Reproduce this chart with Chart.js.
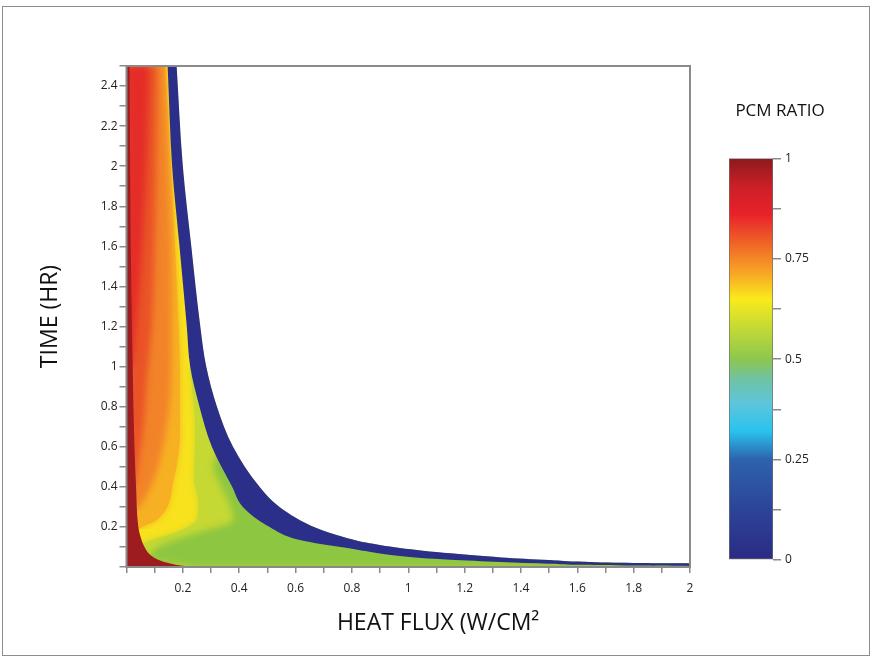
<!DOCTYPE html>
<html>
<head>
<meta charset="utf-8">
<title>PCM ratio</title>
<script src="https://cdn.jsdelivr.net/npm/chart.js@4.4.1/dist/chart.umd.min.js"></script>
<style>
	html, body { margin: 0; padding: 0; background: #fff; }
	#wrap { position: relative; width: 874px; height: 661px; }
	#frame { position: absolute; left: 2px; top: 6px; width: 866px; height: 648px; border: 1px solid #8c8c8c; }
	canvas { position: absolute; }
	#map { left: 0; top: 0; }
	#bar { left: 700px; top: 80px; }
</style>
</head>
<body>
<div id="wrap">
	<div id="frame"></div>
	<canvas id="map" width="874" height="661"></canvas>
	<canvas id="bar" width="174" height="520"></canvas>
</div>
<script>
(() => {
	'use strict'

	// contour edges, as [heat flux, time] pairs, time going up
	const outerEdge = [[2.0, 0], [2.0, 0.018], [1.8, 0.02], [1.6, 0.027], [1.5, 0.035], [1.33, 0.048], [1.15, 0.068], [0.97, 0.095], [0.85, 0.122], [0.77, 0.15], [0.674, 0.195], [0.543, 0.3], [0.472, 0.4], [0.378, 0.6], [0.321, 0.8], [0.283, 1.0], [0.262, 1.2], [0.23, 1.6], [0.2, 2.0], [0.178, 2.5]]
	const innerEdge = [[2.0, 0], [2.0, 0.004], [1.8, 0.007], [1.6, 0.011], [1.5, 0.016], [1.33, 0.025], [1.15, 0.036], [0.97, 0.055], [0.79, 0.093], [0.615, 0.135], [0.508, 0.2], [0.413, 0.3], [0.375, 0.4], [0.303, 0.6], [0.259, 0.8], [0.226, 1.0], [0.214, 1.2], [0.188, 1.6], [0.162, 2.0], [0.146, 2.5]]
	const greenEdge = [[0.25, 0], [0.12, 0.03], [0.085, 0.06], [0.1, 0.09], [0.142, 0.12], [0.25, 0.17], [0.38, 0.235], [0.37, 0.3], [0.33, 0.42], [0.31, 0.5], [0.318, 0.55]]
	const yellowGreenEdge = [[0.2, 0], [0.08, 0.06], [0.054, 0.11], [0.1, 0.14], [0.17, 0.17], [0.23, 0.21], [0.25, 0.235], [0.255, 0.32], [0.24, 0.44], [0.244, 0.68], [0.236, 0.85], [0.226, 1.0]]
	const yellowOrangeEdge = [[0.04, 0.19], [0.07, 0.21], [0.108, 0.235], [0.167, 0.435], [0.19, 0.685], [0.19, 0.93], [0.185, 1.2], [0.172, 1.6], [0.157, 2.0], [0.138, 2.5]]
	const orangeEdge = [[0.035, 0.28], [0.06, 0.33], [0.096, 0.43], [0.14, 0.68], [0.158, 0.93], [0.16, 1.2], [0.158, 1.6], [0.148, 2.0], [0.132, 2.5]]
	const orangeRedEdge = [[0.03, 0.4], [0.045, 0.55], [0.06, 0.7], [0.072, 0.93], [0.09, 1.2], [0.1, 1.6], [0.105, 2.0], [0.108, 2.5]]
	const redEdge = [[0.02, 1.0], [0.04, 1.3], [0.055, 1.6], [0.07, 2.0], [0.08, 2.5]]
	const darkRedEdge = [[0.26, 0], [0.2, 0.006], [0.16, 0.016], [0.115, 0.035], [0.085, 0.06], [0.064, 0.1], [0.05, 0.15], [0.042, 0.2], [0.034, 0.4], [0.028, 0.6], [0.022, 1.0], [0.016, 1.5], [0.013, 2.0], [0.011, 2.5]]

	const xTicks = ['0.2', '0.4', '0.6', '0.8', '1', '1.2', '1.4', '1.6', '1.8', '2']
	const yTicks = ['0.2', '0.4', '0.6', '0.8', '1', '1.2', '1.4', '1.6', '1.8', '2', '2.2', '2.4']
	const ratioTicks = ['0', '0.25', '0.5', '0.75', '1']
	const ratioRange = [0, 1]

	const pts = (edge) => edge.map(([x, y]) => ({ x, y }))
	const left = { value: 0 }
	const right = { value: 2 }
	const area = (edge, color, fill, soft) => ({
		data: pts(edge),
		backgroundColor: color,
		borderWidth: 0,
		pointRadius: 0,
		cubicInterpolationMode: 'monotone',
		fill: fill,
		soft: !!soft
	})
	// colour bands inside the blue band, fills to dataset 0 (outer edge)
	const bands = (soft) => [
		area(redEdge, '#e42d28', left, soft),
		area(orangeRedEdge, '#ea5327', left, soft),
		area(orangeEdge, '#f28329', left, soft),
		area(yellowOrangeEdge, '#f7b023', left, soft),
		area(greenEdge, '#8dc641', 0, soft),
		area(yellowGreenEdge, '#c5d833', 0, soft)
	]
	const pick = (list, step) => (v) => {
		const s = String(+(Math.round(v / step) * step).toFixed(3))
		return list.includes(s) ? s : ''
	}

	const tickFont = { family: 'Open Sans', size: 12 }
	const titleFont = { family: 'Open Sans', size: 23 }

	const frame = {
		id: 'frame',
		afterDraw(chart) {
			const { ctx, chartArea: a } = chart
			ctx.save()
			ctx.strokeStyle = '#8a8a8a'
			ctx.lineWidth = 2
			ctx.strokeRect(a.left, a.top, a.right - a.left, a.bottom - a.top)
			ctx.restore()
		}
	}

	// datasets are drawn from the last one up; blur the ones marked soft
	const soften = {
		id: 'soften',
		afterDatasetDraw(chart, args) {
			const next = chart.data.datasets[args.index - 1]
			chart.ctx.filter = next && next.soft ? 'blur(3px)' : 'none'
		},
		afterDatasetsDraw(chart) {
			chart.ctx.filter = 'none'
		}
	}

	// index 0 is drawn last (on top)
	new Chart(document.getElementById('map'), {
		type: 'line',
		data: {
			datasets: [
				area(outerEdge, '#2b2f8a', 1),
				area(innerEdge, '#2b2f8a', false),
				area(outerEdge, '#ffffff', right),
				area(darkRedEdge, '#9d1c20', left),
				...bands(true),
				...bands(false),
				area(outerEdge, '#f8e21d', left)
			]
		},
		options: {
			indexAxis: 'y',
			responsive: false,
			animation: false,
			devicePixelRatio: 1,
			events: [],
			layout: { padding: { left: 33, top: 66, right: 184, bottom: 20 } },
			plugins: {
				legend: { display: false },
				tooltip: { enabled: false }
			},
			scales: {
				x: {
					type: 'linear',
					min: 0,
					max: 2,
					afterFit: (s) => { s.height = 74 },
					border: { color: '#8a8a8a', width: 2 },
					grid: { drawOnChartArea: false, tickLength: 6, color: '#8a8a8a', lineWidth: 1.5 },
					ticks: { stepSize: 0.1, autoSkip: false, maxRotation: 0, padding: 8, color: '#222', font: tickFont, callback: pick(xTicks, 0.1) },
					title: { display: true, text: '          HEAT FLUX (W/CM²', color: '#111', font: titleFont, padding: 4 }
				},
				y: {
					type: 'linear',
					min: 0,
					max: 2.5,
					afterFit: (s) => { s.width = 93.5 },
					border: { color: '#8a8a8a', width: 2 },
					grid: { drawOnChartArea: false, tickLength: 7, color: '#8a8a8a', lineWidth: 1.5 },
					ticks: { stepSize: 0.1, autoSkip: false, padding: 2, color: '#222', font: tickFont, callback: pick(yTicks, 0.1) },
					title: { display: true, text: 'TIME (HR)', color: '#111', font: titleFont, padding: 4 }
				}
			}
		},
		plugins: [soften, frame]
	})

	// colour bar
	const ramp = (context) => {
		const { chart } = context
		const a = chart.chartArea
		if (!a) return '#888'
		const g = chart.ctx.createLinearGradient(0, a.bottom, 0, a.top)
		g.addColorStop(0, '#2a2a84')
		g.addColorStop(0.13, '#2d4599')
		g.addColorStop(0.25, '#2d62ad')
		g.addColorStop(0.32, '#29c2ee')
		g.addColorStop(0.39, '#5ec6dc')
		g.addColorStop(0.45, '#6fc2a4')
		g.addColorStop(0.5, '#8dc74e')
		g.addColorStop(0.58, '#c5da33')
		g.addColorStop(0.65, '#f9ea1c')
		g.addColorStop(0.71, '#f8aa24')
		g.addColorStop(0.78, '#f06c26')
		g.addColorStop(0.86, '#e8222b')
		g.addColorStop(0.93, '#cc1f27')
		g.addColorStop(1, '#8b1a1e')
		return g
	}

	new Chart(document.getElementById('bar'), {
		type: 'bar',
		data: {
			labels: ['PCM RATIO'],
			datasets: [{
				data: [ratioRange],
				backgroundColor: ramp,
				borderColor: '#6e6e6e',
				borderWidth: 1,
				borderSkipped: false,
				barPercentage: 1,
				categoryPercentage: 1
			}]
		},
		options: {
			responsive: false,
			animation: false,
			devicePixelRatio: 1,
			events: [],
			layout: { padding: { left: 29, top: 10, right: 43, bottom: 40 } },
			plugins: {
				legend: { display: false },
				tooltip: { enabled: false },
				title: { display: true, text: 'PCM RATIO', color: '#111', font: { family: 'Open Sans', size: 17, weight: 'normal' }, padding: { top: 11, bottom: 37 } }
			},
			scales: {
				x: { display: false },
				y: {
					position: 'right',
					min: 0,
					max: 1,
					afterFit: (s) => { s.width = 58 },
					border: { display: false },
					grid: { drawOnChartArea: false, tickLength: 8, color: '#8a8a8a', lineWidth: 1.5 },
					ticks: { stepSize: 0.125, autoSkip: false, padding: 4, color: '#222', font: tickFont, callback: pick(ratioTicks, 0.125) }
				}
			}
		}
	})
})()
</script>
</body>
</html>
